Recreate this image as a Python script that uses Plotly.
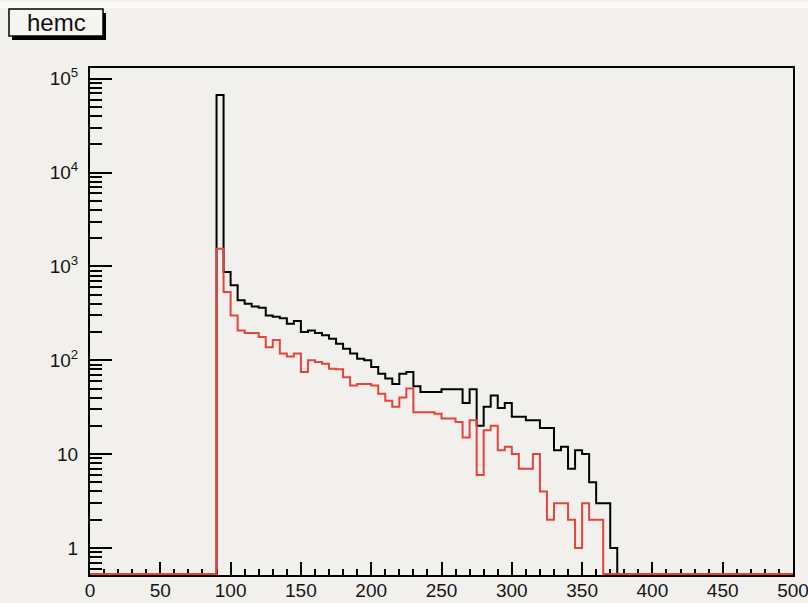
import numpy as np
import plotly.graph_objects as go

# Histogram binning: 100 bins of width 5 over [0, 500]
x_min, x_max, bin_width = 0, 500, 5
first_filled_bin = 90

# Black histogram: counts per bin starting at 90
black_counts = [
    67000, 870, 630, 435, 400, 375, 363, 300, 290, 280,
    245, 262, 200, 208, 195, 185, 170, 150, 133, 118,
    104, 100, 85, 72, 64, 56, 72, 75, 53, 46,
    46, 46, 49, 49, 49, 35, 49, 20, 32, 42,
    31, 35, 25, 25, 23, 23, 19, 19, 11, 12,
    7, 11, 10, 5, 3, 3, 1,
]

# Red histogram: counts per bin starting at 90
red_counts = [
    1545, 533, 300, 208, 195, 195, 177, 138, 164, 118,
    110, 118, 75, 100, 96, 92, 81, 80, 66, 54,
    56, 56, 54, 44, 37, 32, 40, 50, 28, 28,
    28, 27, 24, 24, 22, 15, 23, 6, 18, 20,
    11, 12, 10, 7, 7, 10, 4, 2, 3, 3,
    2, 1, 3, 2, 2,
]

x_tick_vals = list(range(0, 501, 50))
y_tick_vals = [1, 10, 100, 1000, 10000, 100000]
y_tick_text = ["1", "10", "10<sup>2</sup>", "10<sup>3</sup>", "10<sup>4</sup>", "10<sup>5</sup>"]

# Log y range (decades)
y_lo, y_hi = -0.288, 5.114
plot_h = 507  # pixel height of the frame
floor_val = 10 ** (y_lo + 1.0 / (plot_h / (y_hi - y_lo)))  # empty bins sit on the frame bottom

edges = np.arange(x_min, x_max + bin_width, bin_width)
n_bins = len(edges) - 1


def full_counts(counts):
    arr = np.zeros(n_bins)
    start = (first_filled_bin - x_min) // bin_width
    arr[start:start + len(counts)] = counts
    return arr


def step_xy(counts):
    c = full_counts(counts)
    y = np.where(c > 0, c, floor_val)
    y = np.append(y, y[-1])
    return edges, y


bg = "#f2f0ed"
red = "#e4443c"

fig = go.Figure()
for counts, color in [(black_counts, "black"), (red_counts, red)]:
    xs, ys = step_xy(counts)
    fig.add_trace(go.Scatter(
        x=xs, y=ys, mode="lines", line=dict(color=color, width=2, shape="hv"),
        hoverinfo="skip", showlegend=False,
    ))

minor_y = [d * 10.0 ** k for k in range(-1, 6) for d in range(2, 10)
           if y_lo <= np.log10(d * 10.0 ** k) <= y_hi]

tick_font = dict(family="Liberation Sans, Arial, sans-serif", size=19, color="#151515")

fig.update_xaxes(
    range=[x_min, x_max], showgrid=False, zeroline=False, automargin=False,
    showline=True, linecolor="black", linewidth=2, mirror=True,
    ticks="inside", ticklen=13, tickwidth=2, tickcolor="black",
    tickvals=x_tick_vals, tickfont=tick_font, ticklabelstandoff=-3,
    ticklabeloverflow="allow",
    minor=dict(ticks="inside", ticklen=6, tickwidth=2, tickcolor="black",
               dtick=10, showgrid=False),
    layer="below traces",
)
fig.update_yaxes(
    type="log", range=[y_lo, y_hi], showgrid=False, zeroline=False, automargin=False,
    showline=True, linecolor="black", linewidth=2, mirror=True,
    ticks="inside", ticklen=22, tickwidth=2, tickcolor="black",
    tickvals=y_tick_vals, ticktext=y_tick_text, tickfont=tick_font,
    ticklabelstandoff=6, ticklabeloverflow="allow",
    minor=dict(ticks="inside", ticklen=12, tickwidth=2, tickcolor="black",
               tickvals=minor_y, showgrid=False),
    layer="below traces",
)

W, H = 808, 603
ml, mr, mt, mb = 90, 15, 68, 28
pw, ph = W - ml - mr, H - mt - mb


def px_to_paper(px, py):
    return (px - ml) / pw, (H - mb - py) / ph


# Title box with drop shadow
sx0, sy0 = px_to_paper(12, 13)
sx1, sy1 = px_to_paper(106, 40)
bx0, by0 = px_to_paper(9, 9)
bx1, by1 = px_to_paper(103, 36)
band0 = px_to_paper(0, 2)[1]
band1 = px_to_paper(0, 8)[1]
fig.update_layout(
    shapes=[
        dict(type="rect", xref="paper", yref="paper", x0=px_to_paper(0, 0)[0], x1=px_to_paper(W, 0)[0],
             y0=band1, y1=band0, fillcolor="#fbfaf8", line=dict(width=0), layer="below"),
        dict(type="rect", xref="paper", yref="paper", x0=sx0, x1=sx1, y0=sy1, y1=sy0,
             fillcolor="black", line=dict(width=0)),
        dict(type="rect", xref="paper", yref="paper", x0=bx0, x1=bx1, y0=by1, y1=by0,
             fillcolor="#f6f5f2", line=dict(color="black", width=1.5)),
    ],
    annotations=[
        dict(text="hemc", xref="paper", yref="paper",
             x=(bx0 + bx1) / 2, y=(by0 + by1) / 2, xanchor="center", yanchor="middle",
             showarrow=False,
             font=dict(family="Liberation Sans, Arial, sans-serif", size=24, color="#111111")),
    ],
)

fig.update_layout(
    width=W, height=H,
    margin=dict(l=ml, r=mr, t=mt, b=mb, autoexpand=False),
    paper_bgcolor=bg, plot_bgcolor=bg,
    showlegend=False,
)

fig.write_html("out.html", config={"displayModeBar": False})
